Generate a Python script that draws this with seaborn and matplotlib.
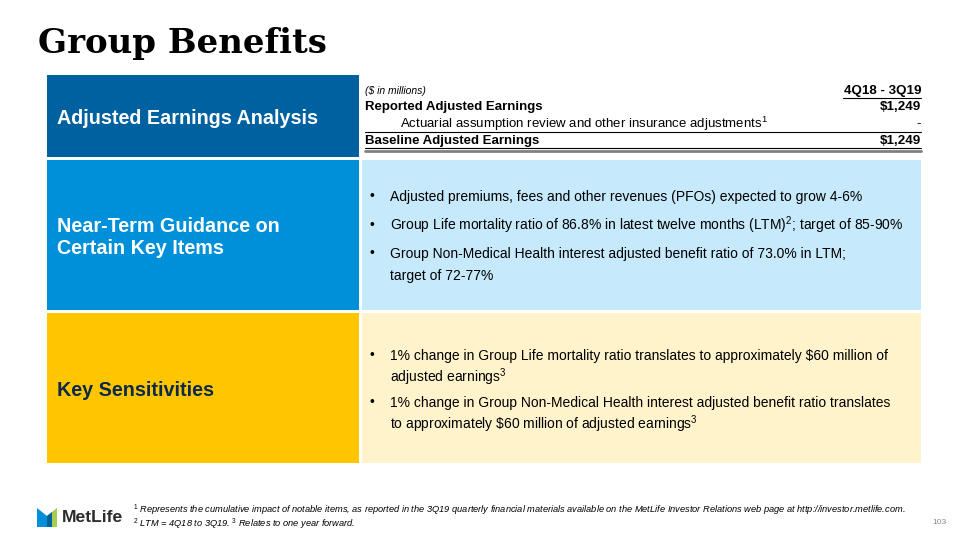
import matplotlib
matplotlib.use('Agg')
import matplotlib.pyplot as plt
import matplotlib.patches as mpatches
import seaborn as sns

# Slide content
title = 'Group Benefits'
section_labels = ['Adjusted Earnings Analysis', 'Near-Term Guidance on\nCertain Key Items', 'Key Sensitivities']
section_colors = ['#0061A0', '#0090DA', '#FFC600']
body_colors = ['#FFFFFF', '#C6E9FB', '#FFF3CC']
label_colors = ['white', 'white', '#0B2A4A']

table_labels = ['($ in millions)', 'Reported Adjusted Earnings',
                'Actuarial assumption review and other insurance adjustments$^{1}$',
                'Baseline Adjusted Earnings']
table_values = ['4Q18 - 3Q19', '$1,249', '-', '$1,249']

guidance_bullets = ['Adjusted premiums, fees and other revenues (PFOs) expected to grow 4-6%',
                    'Group Life mortality ratio of 86.8% in latest twelve months (LTM)$^{2}$; target of 85-90%',
                    'Group Non-Medical Health interest adjusted benefit ratio of 73.0% in LTM;\ntarget of 72-77%']
sensitivity_bullets = ['1% change in Group Life mortality ratio translates to approximately \\$60 million of\nadjusted earnings$^{3}$',
                       '1% change in Group Non-Medical Health interest adjusted benefit ratio translates\nto approximately \\$60 million of adjusted earnings$^{3}$']

footnotes = ['$^{1}$ Represents the cumulative impact of notable items, as reported in the 3Q19 quarterly financial materials available on the MetLife Investor Relations web page at http://investor.metlife.com.',
             '$^{2}$ LTM = 4Q18 to 3Q19. $^{3}$ Relates to one year forward.']
page_number = '103'

sns.set_theme(style='white')
plt.rcParams['font.family'] = ['Liberation Sans', 'DejaVu Sans']
plt.rcParams['text.color'] = 'black'
plt.rcParams['mathtext.fontset'] = 'custom'
plt.rcParams['mathtext.rm'] = 'Liberation Sans'
plt.rcParams['mathtext.it'] = 'Liberation Sans:italic'
plt.rcParams['mathtext.bf'] = 'Liberation Sans:bold'

fig = plt.figure(figsize=(9.6, 5.4), dpi=100)
ax = fig.add_axes([0, 0, 1, 1])
ax.set_xlim(0, 960)
ax.set_ylim(540, 0)
ax.axis('off')

# Title
ax.text(38, 43, title, fontsize=24.5, fontweight='bold', family='DejaVu Serif', va='center', ha='left')

# Section panels
rows = [(75, 157), (160, 310), (313, 463)]
for (y0, y1), lab, c_left, c_right, c_txt in zip(rows, section_labels, section_colors, body_colors, label_colors):
    ax.add_patch(mpatches.Rectangle((47, y0), 312, y1 - y0, color=c_left, lw=0))
    ax.add_patch(mpatches.Rectangle((362, y0), 559, y1 - y0, color=c_right, lw=0))
    lines = lab.split('\n')
    mid = (y0 + y1) / 2 + 2
    for k, line in enumerate(lines):
        y = mid + (k - (len(lines) - 1) / 2) * 22
        ax.text(57, y, line, color=c_txt, fontsize=14.2, fontweight='bold', va='center', ha='left')

# Earnings table
row_y = [91, 107, 124, 141]
for i, (lab, val) in enumerate(zip(table_labels, table_values)):
    if i == 0:
        ax.text(365, row_y[i], lab, fontsize=7.5, style='italic', va='center')
        ax.text(921, row_y[i], val, fontsize=9.6, fontweight='bold', va='center', ha='right')
    elif i == 2:
        ax.text(400, row_y[i], lab, fontsize=9.5, va='center')
        ax.text(921, row_y[i], val, fontsize=9.5, va='center', ha='right')
    else:
        ax.text(365, row_y[i], lab, fontsize=9.5, fontweight='bold', va='center')
        ax.text(921, row_y[i], val, fontsize=9.6, fontweight='bold', va='center', ha='right')
ax.plot([843, 921], [98, 98], color='black', lw=0.8)
ax.plot([365, 921], [132, 132], color='black', lw=0.8)
ax.plot([365, 921], [148, 148], color='black', lw=0.8)
ax.plot([365, 921], [150.5, 150.5], color='#808080', lw=2)


# Bullets
def draw_bullets(items, baselines):
    for txt, yb in zip(items, baselines):
        ax.text(369, yb - 1, '\u2022', fontsize=10, va='baseline', ha='left')
        for k, line in enumerate(txt.split('\n')):
            ax.text(390, yb + k * 22, line, fontsize=10, va='baseline', ha='left')


draw_bullets(guidance_bullets, [201, 230, 258])
draw_bullets(sensitivity_bullets, [360, 407])

# Footer: logo
ax.add_patch(mpatches.Polygon([(37, 508), (47, 516), (47, 527), (37, 527)], color='#0090DA', lw=0))
ax.add_patch(mpatches.Polygon([(57, 508), (47, 516), (47, 527), (57, 527)], color='#A4CE4E', lw=0))
ax.add_patch(mpatches.Polygon([(47, 516), (52, 512), (52, 527), (47, 527)], color='#0061A0', lw=0))
ax.text(62, 518, 'MetLife', fontsize=12.6, fontweight='bold', color='#2B2B2B', va='center', ha='left')

ax.text(133, 510, footnotes[0], fontsize=6.7, style='italic', va='center', ha='left')
ax.text(133, 524.5, footnotes[1], fontsize=6.7, style='italic', va='center', ha='left')
ax.text(946, 522, page_number, fontsize=6, color='#888888', va='center', ha='right')

fig.savefig('out.png', dpi=100)
